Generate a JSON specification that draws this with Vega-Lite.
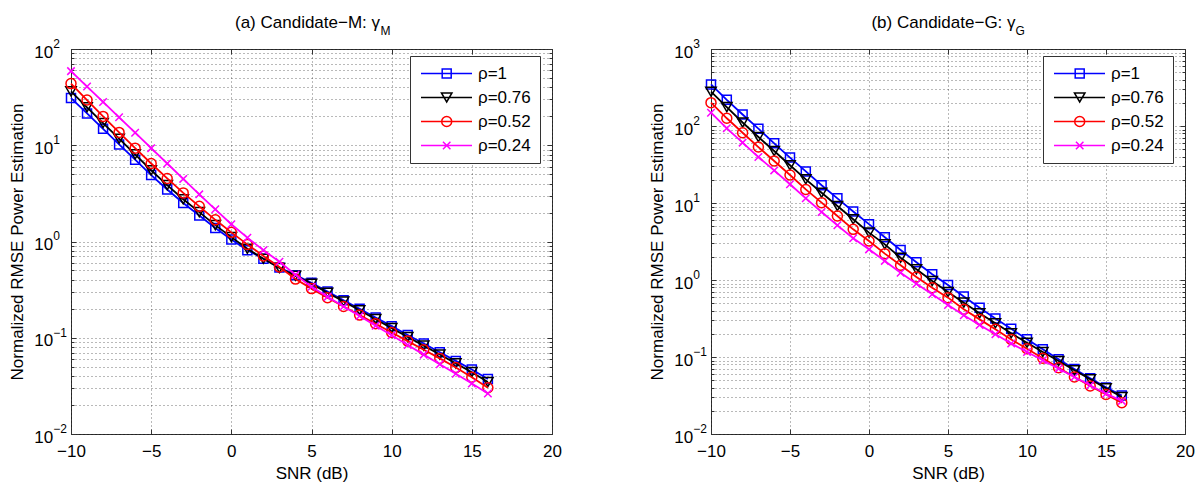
{
"$schema": "https://vega.github.io/schema/vega-lite/v6.json",
"background": "white",
"autosize": {"type": "pad"},
"padding": {"left": 7, "top": 12, "right": 0, "bottom": 0},
"spacing": 159,
"bounds": "flush",
"resolve": {"scale": {"color": "independent", "shape": "independent"}},
"datasets": {
"a": [
{"snr":-10,"rho":"ρ=1","v":30.9},{"snr":-9,"rho":"ρ=1","v":21.4},{"snr":-8,"rho":"ρ=1","v":14.8},{"snr":-7,"rho":"ρ=1","v":10.2},{"snr":-6,"rho":"ρ=1","v":7.08},{"snr":-5,"rho":"ρ=1","v":4.9},{"snr":-4,"rho":"ρ=1","v":3.47},{"snr":-3,"rho":"ρ=1","v":2.51},{"snr":-2,"rho":"ρ=1","v":1.86},{"snr":-1,"rho":"ρ=1","v":1.38},{"snr":0,"rho":"ρ=1","v":1.047},{"snr":1,"rho":"ρ=1","v":0.813},{"snr":2,"rho":"ρ=1","v":0.661},{"snr":3,"rho":"ρ=1","v":0.537},{"snr":4,"rho":"ρ=1","v":0.447},{"snr":5,"rho":"ρ=1","v":0.372},{"snr":6,"rho":"ρ=1","v":0.302},{"snr":7,"rho":"ρ=1","v":0.245},{"snr":8,"rho":"ρ=1","v":0.2},{"snr":9,"rho":"ρ=1","v":0.162},{"snr":10,"rho":"ρ=1","v":0.132},{"snr":11,"rho":"ρ=1","v":0.107},{"snr":12,"rho":"ρ=1","v":0.0871},{"snr":13,"rho":"ρ=1","v":0.0708},{"snr":14,"rho":"ρ=1","v":0.0575},{"snr":15,"rho":"ρ=1","v":0.0468},{"snr":16,"rho":"ρ=1","v":0.0372},
{"snr":-10,"rho":"ρ=0.76","v":36.3},{"snr":-9,"rho":"ρ=0.76","v":24.8},{"snr":-8,"rho":"ρ=0.76","v":17.0},{"snr":-7,"rho":"ρ=0.76","v":11.7},{"snr":-6,"rho":"ρ=0.76","v":8.04},{"snr":-5,"rho":"ρ=0.76","v":5.5},{"snr":-4,"rho":"ρ=0.76","v":3.85},{"snr":-3,"rho":"ρ=0.76","v":2.75},{"snr":-2,"rho":"ρ=0.76","v":2.02},{"snr":-1,"rho":"ρ=0.76","v":1.48},{"snr":0,"rho":"ρ=0.76","v":1.11},{"snr":1,"rho":"ρ=0.76","v":0.841},{"snr":2,"rho":"ρ=0.76","v":0.661},{"snr":3,"rho":"ρ=0.76","v":0.531},{"snr":4,"rho":"ρ=0.76","v":0.44},{"snr":5,"rho":"ρ=0.76","v":0.363},{"snr":6,"rho":"ρ=0.76","v":0.294},{"snr":7,"rho":"ρ=0.76","v":0.238},{"snr":8,"rho":"ρ=0.76","v":0.193},{"snr":9,"rho":"ρ=0.76","v":0.156},{"snr":10,"rho":"ρ=0.76","v":0.126},{"snr":11,"rho":"ρ=0.76","v":0.102},{"snr":12,"rho":"ρ=0.76","v":0.0828},{"snr":13,"rho":"ρ=0.76","v":0.067},{"snr":14,"rho":"ρ=0.76","v":0.0542},{"snr":15,"rho":"ρ=0.76","v":0.0439},{"snr":16,"rho":"ρ=0.76","v":0.0347},
{"snr":-10,"rho":"ρ=0.52","v":43.7},{"snr":-9,"rho":"ρ=0.52","v":29.5},{"snr":-8,"rho":"ρ=0.52","v":19.95},{"snr":-7,"rho":"ρ=0.52","v":13.6},{"snr":-6,"rho":"ρ=0.52","v":9.33},{"snr":-5,"rho":"ρ=0.52","v":6.46},{"snr":-4,"rho":"ρ=0.52","v":4.52},{"snr":-3,"rho":"ρ=0.52","v":3.2},{"snr":-2,"rho":"ρ=0.52","v":2.32},{"snr":-1,"rho":"ρ=0.52","v":1.68},{"snr":0,"rho":"ρ=0.52","v":1.245},{"snr":1,"rho":"ρ=0.52","v":0.933},{"snr":2,"rho":"ρ=0.52","v":0.708},{"snr":3,"rho":"ρ=0.52","v":0.543},{"snr":4,"rho":"ρ=0.52","v":0.407},{"snr":5,"rho":"ρ=0.52","v":0.324},{"snr":6,"rho":"ρ=0.52","v":0.26},{"snr":7,"rho":"ρ=0.52","v":0.211},{"snr":8,"rho":"ρ=0.52","v":0.172},{"snr":9,"rho":"ρ=0.52","v":0.14},{"snr":10,"rho":"ρ=0.52","v":0.1135},{"snr":11,"rho":"ρ=0.52","v":0.0923},{"snr":12,"rho":"ρ=0.52","v":0.075},{"snr":13,"rho":"ρ=0.52","v":0.061},{"snr":14,"rho":"ρ=0.52","v":0.049},{"snr":15,"rho":"ρ=0.52","v":0.0389},{"snr":16,"rho":"ρ=0.52","v":0.0302},
{"snr":-10,"rho":"ρ=0.24","v":58.9},{"snr":-9,"rho":"ρ=0.24","v":40.7},{"snr":-8,"rho":"ρ=0.24","v":28.2},{"snr":-7,"rho":"ρ=0.24","v":19.5},{"snr":-6,"rho":"ρ=0.24","v":13.5},{"snr":-5,"rho":"ρ=0.24","v":9.33},{"snr":-4,"rho":"ρ=0.24","v":6.46},{"snr":-3,"rho":"ρ=0.24","v":4.47},{"snr":-2,"rho":"ρ=0.24","v":3.09},{"snr":-1,"rho":"ρ=0.24","v":2.16},{"snr":0,"rho":"ρ=0.24","v":1.51},{"snr":1,"rho":"ρ=0.24","v":1.096},{"snr":2,"rho":"ρ=0.24","v":0.813},{"snr":3,"rho":"ρ=0.24","v":0.617},{"snr":4,"rho":"ρ=0.24","v":0.452},{"snr":5,"rho":"ρ=0.24","v":0.339},{"snr":6,"rho":"ρ=0.24","v":0.266},{"snr":7,"rho":"ρ=0.24","v":0.211},{"snr":8,"rho":"ρ=0.24","v":0.168},{"snr":9,"rho":"ρ=0.24","v":0.133},{"snr":10,"rho":"ρ=0.24","v":0.106},{"snr":11,"rho":"ρ=0.24","v":0.0841},{"snr":12,"rho":"ρ=0.24","v":0.0668},{"snr":13,"rho":"ρ=0.24","v":0.0531},{"snr":14,"rho":"ρ=0.24","v":0.0422},{"snr":15,"rho":"ρ=0.24","v":0.0335},{"snr":16,"rho":"ρ=0.24","v":0.0263}
],
"b": [
{"snr":-10,"rho":"ρ=1","v":347},{"snr":-9,"rho":"ρ=1","v":219},{"snr":-8,"rho":"ρ=1","v":141},{"snr":-7,"rho":"ρ=1","v":92.3},{"snr":-6,"rho":"ρ=1","v":59.6},{"snr":-5,"rho":"ρ=1","v":38.9},{"snr":-4,"rho":"ρ=1","v":25.7},{"snr":-3,"rho":"ρ=1","v":17.0},{"snr":-2,"rho":"ρ=1","v":11.5},{"snr":-1,"rho":"ρ=1","v":7.76},{"snr":0,"rho":"ρ=1","v":5.31},{"snr":1,"rho":"ρ=1","v":3.59},{"snr":2,"rho":"ρ=1","v":2.45},{"snr":3,"rho":"ρ=1","v":1.7},{"snr":4,"rho":"ρ=1","v":1.19},{"snr":5,"rho":"ρ=1","v":0.861},{"snr":6,"rho":"ρ=1","v":0.61},{"snr":7,"rho":"ρ=1","v":0.437},{"snr":8,"rho":"ρ=1","v":0.316},{"snr":9,"rho":"ρ=1","v":0.232},{"snr":10,"rho":"ρ=1","v":0.17},{"snr":11,"rho":"ρ=1","v":0.126},{"snr":12,"rho":"ρ=1","v":0.0933},{"snr":13,"rho":"ρ=1","v":0.07},{"snr":14,"rho":"ρ=1","v":0.0531},{"snr":15,"rho":"ρ=1","v":0.0403},{"snr":16,"rho":"ρ=1","v":0.0316},
{"snr":-10,"rho":"ρ=0.76","v":279},{"snr":-9,"rho":"ρ=0.76","v":176},{"snr":-8,"rho":"ρ=0.76","v":111},{"snr":-7,"rho":"ρ=0.76","v":71.9},{"snr":-6,"rho":"ρ=0.76","v":47.3},{"snr":-5,"rho":"ρ=0.76","v":30.9},{"snr":-4,"rho":"ρ=0.76","v":20.3},{"snr":-3,"rho":"ρ=0.76","v":13.6},{"snr":-2,"rho":"ρ=0.76","v":9.14},{"snr":-1,"rho":"ρ=0.76","v":6.14},{"snr":0,"rho":"ρ=0.76","v":4.12},{"snr":1,"rho":"ρ=0.76","v":2.9},{"snr":2,"rho":"ρ=0.76","v":1.95},{"snr":3,"rho":"ρ=0.76","v":1.38},{"snr":4,"rho":"ρ=0.76","v":0.97},{"snr":5,"rho":"ρ=0.76","v":0.698},{"snr":6,"rho":"ρ=0.76","v":0.508},{"snr":7,"rho":"ρ=0.76","v":0.369},{"snr":8,"rho":"ρ=0.76","v":0.274},{"snr":9,"rho":"ρ=0.76","v":0.203},{"snr":10,"rho":"ρ=0.76","v":0.153},{"snr":11,"rho":"ρ=0.76","v":0.116},{"snr":12,"rho":"ρ=0.76","v":0.0887},{"snr":13,"rho":"ρ=0.76","v":0.0671},{"snr":14,"rho":"ρ=0.76","v":0.0513},{"snr":15,"rho":"ρ=0.76","v":0.0392},{"snr":16,"rho":"ρ=0.76","v":0.0302},
{"snr":-10,"rho":"ρ=0.52","v":201},{"snr":-9,"rho":"ρ=0.52","v":126},{"snr":-8,"rho":"ρ=0.52","v":81.8},{"snr":-7,"rho":"ρ=0.52","v":53.3},{"snr":-6,"rho":"ρ=0.52","v":35.1},{"snr":-5,"rho":"ρ=0.52","v":23.1},{"snr":-4,"rho":"ρ=0.52","v":15.0},{"snr":-3,"rho":"ρ=0.52","v":10.1},{"snr":-2,"rho":"ρ=0.52","v":6.78},{"snr":-1,"rho":"ρ=0.52","v":4.55},{"snr":0,"rho":"ρ=0.52","v":3.21},{"snr":1,"rho":"ρ=0.52","v":2.2},{"snr":2,"rho":"ρ=0.52","v":1.55},{"snr":3,"rho":"ρ=0.52","v":1.094},{"snr":4,"rho":"ρ=0.52","v":0.794},{"snr":5,"rho":"ρ=0.52","v":0.59},{"snr":6,"rho":"ρ=0.52","v":0.416},{"snr":7,"rho":"ρ=0.52","v":0.308},{"snr":8,"rho":"ρ=0.52","v":0.229},{"snr":9,"rho":"ρ=0.52","v":0.169},{"snr":10,"rho":"ρ=0.52","v":0.128},{"snr":11,"rho":"ρ=0.52","v":0.0962},{"snr":12,"rho":"ρ=0.52","v":0.0726},{"snr":13,"rho":"ρ=0.52","v":0.055},{"snr":14,"rho":"ρ=0.52","v":0.042},{"snr":15,"rho":"ρ=0.52","v":0.0327},{"snr":16,"rho":"ρ=0.52","v":0.0255},
{"snr":-10,"rho":"ρ=0.24","v":149},{"snr":-9,"rho":"ρ=0.24","v":93.3},{"snr":-8,"rho":"ρ=0.24","v":60.8},{"snr":-7,"rho":"ρ=0.24","v":39.5},{"snr":-6,"rho":"ρ=0.24","v":26.5},{"snr":-5,"rho":"ρ=0.24","v":17.5},{"snr":-4,"rho":"ρ=0.24","v":11.5},{"snr":-3,"rho":"ρ=0.24","v":7.64},{"snr":-2,"rho":"ρ=0.24","v":5.13},{"snr":-1,"rho":"ρ=0.24","v":3.48},{"snr":0,"rho":"ρ=0.24","v":2.5},{"snr":1,"rho":"ρ=0.24","v":1.77},{"snr":2,"rho":"ρ=0.24","v":1.245},{"snr":3,"rho":"ρ=0.24","v":0.895},{"snr":4,"rho":"ρ=0.24","v":0.652},{"snr":5,"rho":"ρ=0.24","v":0.473},{"snr":6,"rho":"ρ=0.24","v":0.348},{"snr":7,"rho":"ρ=0.24","v":0.261},{"snr":8,"rho":"ρ=0.24","v":0.197},{"snr":9,"rho":"ρ=0.24","v":0.15},{"snr":10,"rho":"ρ=0.24","v":0.116},{"snr":11,"rho":"ρ=0.24","v":0.0906},{"snr":12,"rho":"ρ=0.24","v":0.0705},{"snr":13,"rho":"ρ=0.24","v":0.055},{"snr":14,"rho":"ρ=0.24","v":0.0429},{"snr":15,"rho":"ρ=0.24","v":0.0334},{"snr":16,"rho":"ρ=0.24","v":0.0269}
]
},
"hconcat": [
{
"width": 481, "height": 385,
"data": {"name": "a"},
"encoding": {
"x": {"field": "snr", "type": "quantitative", "scale": {"domain": [-10, 20], "nice": false, "zero": false}, "axis": null},
"y": {"field": "v", "type": "quantitative", "scale": {"type": "log", "domain": [0.01, 100], "nice": false}, "axis": null}
},
"layer": [
{"transform": [{"filter": {"field": "rho", "equal": "ρ=1"}}],
 "mark": {"type": "line", "color": "#0000ff", "strokeWidth": 1.8},
 "encoding": {
  "x": {"field": "snr", "type": "quantitative", "scale": {"domain": [-10, 20], "nice": false, "zero": false},
        "axis": {"orient": "bottom", "values": [-10,-5,0,5,10,15,20], "grid": true, "ticks": false, "domain": false, "labelPadding": 9, "labelFlush": false, "labelOverlap": false, "title": "SNR (dB)", "titleX": 240.5, "titleY": 44, "titleAlign": "center", "titleBaseline": "alphabetic"}},
  "y": {"field": "v", "type": "quantitative", "scale": {"type": "log", "domain": [0.01, 100], "nice": false},
        "axis": {"orient": "left", "values": [0.01,0.02,0.03,0.04,0.05,0.06,0.07,0.08,0.09,0.1,0.2,0.3,0.4,0.5,0.6,0.7,0.8,0.9,1,2,3,4,5,6,7,8,9,10,20,30,40,50,60,70,80,90,100], "grid": true, "ticks": true, "tickSize": -3, "labels": false, "domain": false, "title": "Normalized RMSE Power Estimation", "titleX": -49, "titleY": 192.5, "titleAngle": 270, "titleAlign": "center", "titleBaseline": "alphabetic"}}
 }},
{"transform": [{"filter": {"field": "rho", "equal": "ρ=1"}}],
 "mark": {"type": "point", "shape": "square", "filled": false, "color": "#0000ff", "size": 81, "strokeWidth": 1.5, "opacity": 1},
 "encoding": {
  "x": {"field": "snr", "type": "quantitative", "scale": {"domain": [-10, 20], "nice": false, "zero": false},
        "axis": {"orient": "bottom", "values": [-10,-5,0,5,10,15,20], "grid": false, "ticks": true, "tickSize": -5, "labels": false, "domain": false, "title": null}},
  "y": {"field": "v", "type": "quantitative", "scale": {"type": "log", "domain": [0.01, 100], "nice": false},
        "axis": {"orient": "left", "values": [0.01,0.1,1,10,100], "grid": false, "ticks": false, "domain": false, "labelExpr": "'10'", "labelPadding": 18.3, "labelAlign": "right", "labelBaseline": "alphabetic", "labelOffset": 8, "labelOverlap": false, "title": null}}
 }},
{"transform": [{"filter": {"field": "rho", "equal": "ρ=0.76"}}],
 "mark": {"type": "line", "color": "#000000", "strokeWidth": 1.8},
 "encoding": {
  "x": {"field": "snr", "type": "quantitative", "scale": {"domain": [-10, 20], "nice": false, "zero": false},
        "axis": {"orient": "top", "values": [-10,-5,0,5,10,15,20], "grid": false, "ticks": true, "tickSize": -5, "labels": false, "domain": false, "title": null}},
  "y": {"field": "v", "type": "quantitative", "scale": {"type": "log", "domain": [0.01, 100], "nice": false},
        "axis": {"orient": "left", "values": [0.01,0.1,1,10,100], "grid": false, "ticks": false, "domain": false, "labelExpr": "format(round(log(datum.value)/LN10), 'd')", "labelFontSize": 12, "labelPadding": 18.3, "labelAlign": "left", "labelBaseline": "alphabetic", "labelOffset": -1.7, "labelOverlap": false, "title": null}}
 }},
{"transform": [{"filter": {"field": "rho", "equal": "ρ=0.76"}}],
 "mark": {"type": "point", "shape": "triangle-down", "filled": false, "color": "#000000", "size": 110, "strokeWidth": 1.5, "opacity": 1},
 "encoding": {
  "x": {"field": "snr", "type": "quantitative", "scale": {"domain": [-10, 20], "nice": false, "zero": false},
        "axis": {"orient": "top", "values": [-10], "grid": false, "ticks": false, "labels": false, "domain": false, "title": "(a) Candidate−M: γ", "titleX": 236, "titleY": -22, "titleAlign": "center", "titleBaseline": "alphabetic"}},
  "y": {"field": "v", "type": "quantitative", "scale": {"type": "log", "domain": [0.01, 100], "nice": false},
        "axis": {"orient": "left", "values": [0.01,0.1,1,10,100], "grid": false, "ticks": true, "tickSize": -5, "labels": false, "domain": false, "title": null}}
 }},
{"transform": [{"filter": {"field": "rho", "equal": "ρ=0.52"}}],
 "mark": {"type": "line", "color": "#ff0000", "strokeWidth": 1.8},
 "encoding": {
  "x": {"field": "snr", "type": "quantitative", "scale": {"domain": [-10, 20], "nice": false, "zero": false},
        "axis": {"orient": "top", "values": [-10], "grid": false, "ticks": false, "labels": false, "domain": false, "title": "M", "titleFontSize": 12, "titleX": 309, "titleY": -15, "titleAlign": "left", "titleBaseline": "alphabetic"}},
  "y": {"field": "v", "type": "quantitative", "scale": {"type": "log", "domain": [0.01, 100], "nice": false},
        "axis": {"orient": "right", "values": [0.01,0.02,0.03,0.04,0.05,0.06,0.07,0.08,0.09,0.1,0.2,0.3,0.4,0.5,0.6,0.7,0.8,0.9,1,2,3,4,5,6,7,8,9,10,20,30,40,50,60,70,80,90,100], "grid": false, "ticks": true, "tickSize": -3, "labels": false, "domain": false, "title": null}}
 }},
{"transform": [{"filter": {"field": "rho", "equal": "ρ=0.52"}}],
 "mark": {"type": "point", "shape": "circle", "filled": false, "color": "#ff0000", "size": 100, "strokeWidth": 1.5, "opacity": 1},
 "encoding": {
  "y": {"field": "v", "type": "quantitative", "scale": {"type": "log", "domain": [0.01, 100], "nice": false},
        "axis": {"orient": "right", "values": [0.01,0.1,1,10,100], "grid": false, "ticks": true, "tickSize": -5, "labels": false, "domain": false, "title": null}}
 }},
{"transform": [{"filter": {"field": "rho", "equal": "ρ=0.24"}}],
 "mark": {"type": "line", "color": "#ff00ff", "strokeWidth": 1.8}},
{"transform": [{"filter": {"field": "rho", "equal": "ρ=0.24"}}],
 "mark": {"type": "point", "shape": "M-1,-1L1,1M-1,1L1,-1", "filled": false, "color": "#ff00ff", "size": 56, "strokeWidth": 1.5, "opacity": 1}},
{"mark": {"type": "point", "filled": false, "opacity": 0},
 "encoding": {
  "color": {"field": "rho", "type": "nominal", "scale": {"domain": ["ρ=1","ρ=0.76","ρ=0.52","ρ=0.24"], "range": ["#0000ff","#000000","#ff0000","#ff00ff"]},
            "legend": {"title": null, "orient": "none", "legendX": 339, "legendY": 7, "padding": 9, "rowPadding": 6, "strokeColor": "#333", "fillColor": "#ffffff", "symbolSize": 100, "symbolStrokeWidth": 1.5, "symbolOpacity": 1, "labelOffset": 42, "labelFontSize": 17, "labelExpr": "datum.label + '  '"}},
  "shape": {"field": "rho", "type": "nominal", "scale": {"domain": ["ρ=1","ρ=0.76","ρ=0.52","ρ=0.24"], "range": ["M-1.3,0H8.9M2.94,-0.9H4.74V0.9H2.94Z", "M-1.3,0H8.9M2.79,-0.9H4.89L3.84,0.9Z", "M-1.3,0H8.9M4.84,0A1,1,0,1,1,2.84,0A1,1,0,1,1,4.84,0Z", "M-1.3,0H8.9M3.09,-0.75L4.59,0.75M3.09,0.75L4.59,-0.75"]},
            "legend": {"title": null, "orient": "none", "legendX": 339, "legendY": 7, "padding": 9, "rowPadding": 6, "strokeColor": "#333", "fillColor": "#ffffff", "symbolSize": 100, "symbolStrokeWidth": 1.5, "symbolOpacity": 1, "labelOffset": 42, "labelFontSize": 17, "labelExpr": "datum.label + '  '"}}
 }}
]
},
{
"width": 474, "height": 385,
"data": {"name": "b"},
"encoding": {
"x": {"field": "snr", "type": "quantitative", "scale": {"domain": [-10, 20], "nice": false, "zero": false}, "axis": null},
"y": {"field": "v", "type": "quantitative", "scale": {"type": "log", "domain": [0.01, 1000], "nice": false}, "axis": null}
},
"layer": [
{"transform": [{"filter": {"field": "rho", "equal": "ρ=1"}}],
 "mark": {"type": "line", "color": "#0000ff", "strokeWidth": 1.8},
 "encoding": {
  "x": {"field": "snr", "type": "quantitative", "scale": {"domain": [-10, 20], "nice": false, "zero": false},
        "axis": {"orient": "bottom", "values": [-10,-5,0,5,10,15,20], "grid": true, "ticks": false, "domain": false, "labelPadding": 9, "labelFlush": false, "labelOverlap": false, "title": "SNR (dB)", "titleX": 237, "titleY": 44, "titleAlign": "center", "titleBaseline": "alphabetic"}},
  "y": {"field": "v", "type": "quantitative", "scale": {"type": "log", "domain": [0.01, 1000], "nice": false},
        "axis": {"orient": "left", "values": [0.01,0.02,0.03,0.04,0.05,0.06,0.07,0.08,0.09,0.1,0.2,0.3,0.4,0.5,0.6,0.7,0.8,0.9,1,2,3,4,5,6,7,8,9,10,20,30,40,50,60,70,80,90,100,200,300,400,500,600,700,800,900,1000], "grid": true, "ticks": true, "tickSize": -3, "labels": false, "domain": false, "title": "Normalized RMSE Power Estimation", "titleX": -49, "titleY": 192.5, "titleAngle": 270, "titleAlign": "center", "titleBaseline": "alphabetic"}}
 }},
{"transform": [{"filter": {"field": "rho", "equal": "ρ=1"}}],
 "mark": {"type": "point", "shape": "square", "filled": false, "color": "#0000ff", "size": 81, "strokeWidth": 1.5, "opacity": 1},
 "encoding": {
  "x": {"field": "snr", "type": "quantitative", "scale": {"domain": [-10, 20], "nice": false, "zero": false},
        "axis": {"orient": "bottom", "values": [-10,-5,0,5,10,15,20], "grid": false, "ticks": true, "tickSize": -5, "labels": false, "domain": false, "title": null}},
  "y": {"field": "v", "type": "quantitative", "scale": {"type": "log", "domain": [0.01, 1000], "nice": false},
        "axis": {"orient": "left", "values": [0.01,0.1,1,10,100,1000], "grid": false, "ticks": false, "domain": false, "labelExpr": "'10'", "labelPadding": 18.3, "labelAlign": "right", "labelBaseline": "alphabetic", "labelOffset": 8, "labelOverlap": false, "title": null}}
 }},
{"transform": [{"filter": {"field": "rho", "equal": "ρ=0.76"}}],
 "mark": {"type": "line", "color": "#000000", "strokeWidth": 1.8},
 "encoding": {
  "x": {"field": "snr", "type": "quantitative", "scale": {"domain": [-10, 20], "nice": false, "zero": false},
        "axis": {"orient": "top", "values": [-10,-5,0,5,10,15,20], "grid": false, "ticks": true, "tickSize": -5, "labels": false, "domain": false, "title": null}},
  "y": {"field": "v", "type": "quantitative", "scale": {"type": "log", "domain": [0.01, 1000], "nice": false},
        "axis": {"orient": "left", "values": [0.01,0.1,1,10,100,1000], "grid": false, "ticks": false, "domain": false, "labelExpr": "format(round(log(datum.value)/LN10), 'd')", "labelFontSize": 12, "labelPadding": 18.3, "labelAlign": "left", "labelBaseline": "alphabetic", "labelOffset": -1.7, "labelOverlap": false, "title": null}}
 }},
{"transform": [{"filter": {"field": "rho", "equal": "ρ=0.76"}}],
 "mark": {"type": "point", "shape": "triangle-down", "filled": false, "color": "#000000", "size": 110, "strokeWidth": 1.5, "opacity": 1},
 "encoding": {
  "x": {"field": "snr", "type": "quantitative", "scale": {"domain": [-10, 20], "nice": false, "zero": false},
        "axis": {"orient": "top", "values": [-10], "grid": false, "ticks": false, "labels": false, "domain": false, "title": "(b) Candidate−G: γ", "titleX": 232, "titleY": -22, "titleAlign": "center", "titleBaseline": "alphabetic"}},
  "y": {"field": "v", "type": "quantitative", "scale": {"type": "log", "domain": [0.01, 1000], "nice": false},
        "axis": {"orient": "left", "values": [0.01,0.1,1,10,100,1000], "grid": false, "ticks": true, "tickSize": -5, "labels": false, "domain": false, "title": null}}
 }},
{"transform": [{"filter": {"field": "rho", "equal": "ρ=0.52"}}],
 "mark": {"type": "line", "color": "#ff0000", "strokeWidth": 1.8},
 "encoding": {
  "x": {"field": "snr", "type": "quantitative", "scale": {"domain": [-10, 20], "nice": false, "zero": false},
        "axis": {"orient": "top", "values": [-10], "grid": false, "ticks": false, "labels": false, "domain": false, "title": "G", "titleFontSize": 12, "titleX": 304, "titleY": -15, "titleAlign": "left", "titleBaseline": "alphabetic"}},
  "y": {"field": "v", "type": "quantitative", "scale": {"type": "log", "domain": [0.01, 1000], "nice": false},
        "axis": {"orient": "right", "values": [0.01,0.02,0.03,0.04,0.05,0.06,0.07,0.08,0.09,0.1,0.2,0.3,0.4,0.5,0.6,0.7,0.8,0.9,1,2,3,4,5,6,7,8,9,10,20,30,40,50,60,70,80,90,100,200,300,400,500,600,700,800,900,1000], "grid": false, "ticks": true, "tickSize": -3, "labels": false, "domain": false, "title": null}}
 }},
{"transform": [{"filter": {"field": "rho", "equal": "ρ=0.52"}}],
 "mark": {"type": "point", "shape": "circle", "filled": false, "color": "#ff0000", "size": 100, "strokeWidth": 1.5, "opacity": 1},
 "encoding": {
  "y": {"field": "v", "type": "quantitative", "scale": {"type": "log", "domain": [0.01, 1000], "nice": false},
        "axis": {"orient": "right", "values": [0.01,0.1,1,10,100,1000], "grid": false, "ticks": true, "tickSize": -5, "labels": false, "domain": false, "title": null}}
 }},
{"transform": [{"filter": {"field": "rho", "equal": "ρ=0.24"}}],
 "mark": {"type": "line", "color": "#ff00ff", "strokeWidth": 1.8}},
{"transform": [{"filter": {"field": "rho", "equal": "ρ=0.24"}}],
 "mark": {"type": "point", "shape": "M-1,-1L1,1M-1,1L1,-1", "filled": false, "color": "#ff00ff", "size": 56, "strokeWidth": 1.5, "opacity": 1}},
{"mark": {"type": "point", "filled": false, "opacity": 0},
 "encoding": {
  "color": {"field": "rho", "type": "nominal", "scale": {"domain": ["ρ=1","ρ=0.76","ρ=0.52","ρ=0.24"], "range": ["#0000ff","#000000","#ff0000","#ff00ff"]},
            "legend": {"title": null, "orient": "none", "legendX": 332, "legendY": 7, "padding": 9, "rowPadding": 6, "strokeColor": "#333", "fillColor": "#ffffff", "symbolSize": 100, "symbolStrokeWidth": 1.5, "symbolOpacity": 1, "labelOffset": 42, "labelFontSize": 17, "labelExpr": "datum.label + '  '"}},
  "shape": {"field": "rho", "type": "nominal", "scale": {"domain": ["ρ=1","ρ=0.76","ρ=0.52","ρ=0.24"], "range": ["M-1.3,0H8.9M2.94,-0.9H4.74V0.9H2.94Z", "M-1.3,0H8.9M2.79,-0.9H4.89L3.84,0.9Z", "M-1.3,0H8.9M4.84,0A1,1,0,1,1,2.84,0A1,1,0,1,1,4.84,0Z", "M-1.3,0H8.9M3.09,-0.75L4.59,0.75M3.09,0.75L4.59,-0.75"]},
            "legend": {"title": null, "orient": "none", "legendX": 332, "legendY": 7, "padding": 9, "rowPadding": 6, "strokeColor": "#333", "fillColor": "#ffffff", "symbolSize": 100, "symbolStrokeWidth": 1.5, "symbolOpacity": 1, "labelOffset": 42, "labelFontSize": 17, "labelExpr": "datum.label + '  '"}}
 }}
]
}
],
"config": {
"font": "Liberation Sans",
"view": {"stroke": "#333333", "strokeWidth": 1},
"axis": {"labelFont": "Liberation Sans", "titleFont": "Liberation Sans", "labelFontSize": 17, "titleFontSize": 17, "titleFontWeight": "normal", "labelColor": "#000000", "titleColor": "#000000", "tickColor": "#333333", "tickWidth": 1, "labelOverlap": false, "labelFlush": false, "gridColor": "#000000", "gridDash": [1, 3], "gridOpacity": 0.55, "gridWidth": 1, "domain": false},
"legend": {"labelFont": "Liberation Sans", "labelColor": "#000000"}
}
}
